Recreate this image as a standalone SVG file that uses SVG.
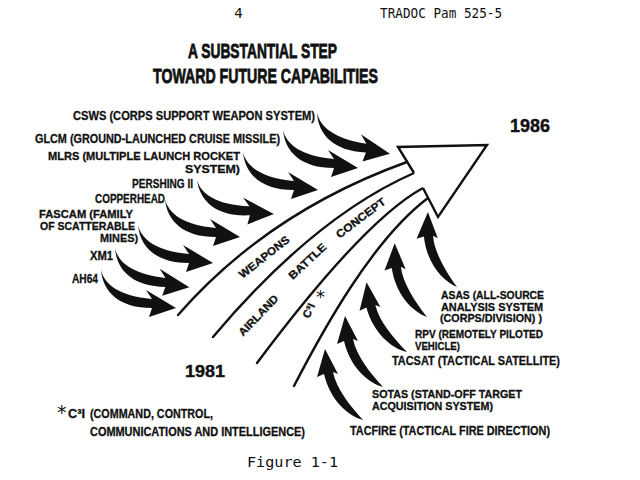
<svg xmlns="http://www.w3.org/2000/svg" width="640" height="480" viewBox="0 0 640 480">
<style>
.hdr{font-family:"DejaVu Sans Mono","Liberation Mono",monospace;font-size:14px;fill:#111}
.ttl{font-family:"Liberation Sans",Arial,sans-serif;font-weight:900;font-size:21px;fill:#111;stroke:#111;stroke-width:0.8}
.lbl{font-family:"Liberation Sans",Arial,sans-serif;font-weight:bold;font-size:12.5px;fill:#111;stroke:#111;stroke-width:0.3}
.sm{font-size:11px}
.yr{font-family:"Liberation Sans",Arial,sans-serif;font-weight:bold;fill:#111;stroke:#111;stroke-width:0.4}
.band{font-family:"Liberation Sans",Arial,sans-serif;font-weight:bold;font-size:11px;fill:#111;stroke:#111;stroke-width:0.3}
.star{font-family:"DejaVu Sans",sans-serif;font-weight:normal;fill:#111;stroke:none}
.line{fill:none;stroke:#111;stroke-width:2.4;stroke-linecap:round}
.head{fill:#fff;stroke:none}
.headln{fill:none;stroke:#111;stroke-width:2.4;stroke-linejoin:miter}
.arr{fill:#111}
</style>
<defs>
<path id="wa" d="M0,0 C3,14 18,26 51,29 L45,20 L75,38 L48,47 L51,38 C18,38 2,22 0,0 Z"/>
<path id="ca" d="M0,0 C-15,-4 -33,-20 -39,-46 L-46,-43 L-38,-71 L-25,-46 L-30,-48 C-27,-32 -13,-14 0,0 Z"/>
</defs>
<rect width="640" height="480" fill="#fff"/>

<g id="header">
<text class="hdr" x="238.5" y="18" text-anchor="middle">4</text>
<text class="hdr" x="380" y="18" textLength="122" lengthAdjust="spacingAndGlyphs">TRADOC Pam 525-5</text>
</g>
<g id="title">
<text class="ttl" x="188" y="58" textLength="149" lengthAdjust="spacingAndGlyphs">A SUBSTANTIAL STEP</text>
<text class="ttl" x="153" y="83" textLength="225" lengthAdjust="spacingAndGlyphs">TOWARD FUTURE CAPABILITIES</text>
</g>

<g id="connectors">
<g id="bands">
<path class="line" d="M178,315 Q268,212 407,162"/>
<path class="line" d="M213,337 Q314,217 414,173"/>
<path class="line" d="M257,363 Q364,220 423,188"/>
<path class="line" d="M294,386 C322,332 372,240 428,198"/>
</g>
<g id="weapon-arrows" class="arr">
<use href="#wa" transform="translate(317,112) rotate(3)"/>
<use href="#wa" transform="translate(283,130)"/>
<use href="#wa" transform="translate(243,152)"/>
<use href="#wa" transform="translate(197,180) rotate(-3)"/>
<use href="#wa" transform="translate(165,199)"/>
<use href="#wa" transform="translate(138,225)"/>
<use href="#wa" transform="translate(115,248) rotate(1)"/>
<use href="#wa" transform="translate(101,270)"/>
</g>
<g id="c3i-arrows" class="arr">
<use href="#ca" transform="translate(363,420)"/>
<use href="#ca" transform="translate(383,387)"/>
<use href="#ca" transform="translate(407,352) rotate(-2)"/>
<use href="#ca" transform="translate(427,317) rotate(4.5)"/>
<use href="#ca" transform="translate(457,287) rotate(7)"/>
</g>
</g>

<g id="big-arrowhead">
<path class="head" d="M414,173 L398,147 L487,145 L438,217 L423,188 Z"/>
<path class="headln" d="M414,173 L398,147 L487,145 L438,217 L423,188"/>
</g>

<g id="band-labels">
<text class="band" x="266.5" y="260" text-anchor="middle" textLength="61" lengthAdjust="spacingAndGlyphs" transform="rotate(-38 266.5 260)">WEAPONS</text>
<text class="band" x="261" y="318" text-anchor="middle" textLength="52" lengthAdjust="spacingAndGlyphs" transform="rotate(-46 261 318)">AIRLAND</text>
<text class="band" x="310" y="264" text-anchor="middle" textLength="47" lengthAdjust="spacingAndGlyphs" transform="rotate(-43 310 264)">BATTLE</text>
<text class="band" x="363" y="221" text-anchor="middle" textLength="59" lengthAdjust="spacingAndGlyphs" transform="rotate(-37 363 221)">CONCEPT</text>
<text class="band" x="309" y="319" font-size="12" textLength="15" lengthAdjust="spacingAndGlyphs" transform="rotate(-65 309 319)">C³I</text>
<text class="star" x="316" y="303" font-size="18">*</text>
</g>

<g id="years">
<text class="yr" x="510" y="132" font-size="18" textLength="40" lengthAdjust="spacingAndGlyphs">1986</text>
<text class="yr" x="185" y="377" font-size="16.5" textLength="40" lengthAdjust="spacingAndGlyphs">1981</text>
</g>

<g id="node-csws"><text class="lbl" x="73" y="120" textLength="242" lengthAdjust="spacingAndGlyphs">CSWS (CORPS SUPPORT WEAPON SYSTEM)</text></g>
<g id="node-glcm"><text class="lbl" x="35" y="143" textLength="245" lengthAdjust="spacingAndGlyphs">GLCM (GROUND-LAUNCHED CRUISE MISSILE)</text></g>
<g id="node-mlrs">
<text class="lbl sm" x="48" y="160" textLength="192" lengthAdjust="spacingAndGlyphs">MLRS (MULTIPLE LAUNCH ROCKET</text>
<text class="lbl sm" x="185" y="173" textLength="55" lengthAdjust="spacingAndGlyphs">SYSTEM)</text>
</g>
<g id="node-pershing"><text class="lbl" x="132" y="188" textLength="61" lengthAdjust="spacingAndGlyphs">PERSHING II</text></g>
<g id="node-copperhead"><text class="lbl" x="95" y="203" textLength="70" lengthAdjust="spacingAndGlyphs">COPPERHEAD</text></g>
<g id="node-fascam">
<text class="lbl sm" x="39" y="218" textLength="94" lengthAdjust="spacingAndGlyphs">FASCAM (FAMILY</text>
<text class="lbl sm" x="40" y="230" textLength="95" lengthAdjust="spacingAndGlyphs">OF SCATTERABLE</text>
<text class="lbl sm" x="100" y="242" textLength="38" lengthAdjust="spacingAndGlyphs">MINES)</text>
</g>
<g id="node-xm1"><text class="lbl" x="90" y="260" textLength="23" lengthAdjust="spacingAndGlyphs">XM1</text></g>
<g id="node-ah64"><text class="lbl" x="72" y="283" textLength="26" lengthAdjust="spacingAndGlyphs">AH64</text></g>

<g id="node-asas">
<text class="lbl sm" x="441" y="299" textLength="103" lengthAdjust="spacingAndGlyphs">ASAS (ALL-SOURCE</text>
<text class="lbl sm" x="441" y="310.5" textLength="102" lengthAdjust="spacingAndGlyphs">ANALYSIS SYSTEM</text>
<text class="lbl sm" x="440" y="322" textLength="102" lengthAdjust="spacingAndGlyphs">(CORPS/DIVISION) )</text>
</g>
<g id="node-rpv">
<text class="lbl sm" x="415" y="338" textLength="128" lengthAdjust="spacingAndGlyphs">RPV (REMOTELY PILOTED</text>
<text class="lbl sm" x="415" y="350" textLength="45" lengthAdjust="spacingAndGlyphs">VEHICLE)</text>
</g>
<g id="node-tacsat"><text class="lbl" x="392" y="365" textLength="168" lengthAdjust="spacingAndGlyphs">TACSAT (TACTICAL SATELLITE)</text></g>
<g id="node-sotas">
<text class="lbl sm" x="372" y="398" textLength="150" lengthAdjust="spacingAndGlyphs">SOTAS (STAND-OFF TARGET</text>
<text class="lbl sm" x="372" y="410" textLength="121" lengthAdjust="spacingAndGlyphs">ACQUISITION SYSTEM)</text>
</g>
<g id="node-tacfire"><text class="lbl" x="350" y="435" textLength="200" lengthAdjust="spacingAndGlyphs">TACFIRE (TACTICAL FIRE DIRECTION)</text></g>

<g id="footnote">
<text class="star" x="57" y="419" font-size="19">*</text>
<text class="lbl" x="68" y="418" textLength="17" lengthAdjust="spacingAndGlyphs">C³I</text>
<text class="lbl" x="90" y="418" textLength="123" lengthAdjust="spacingAndGlyphs">(COMMAND, CONTROL,</text>
<text class="lbl" x="90" y="436" textLength="215" lengthAdjust="spacingAndGlyphs">COMMUNICATIONS AND INTELLIGENCE)</text>
</g>

<g id="caption">
<text class="hdr" x="247" y="467" font-size="15.5" textLength="91" lengthAdjust="spacingAndGlyphs">Figure 1-1</text>
</g>
</svg>
